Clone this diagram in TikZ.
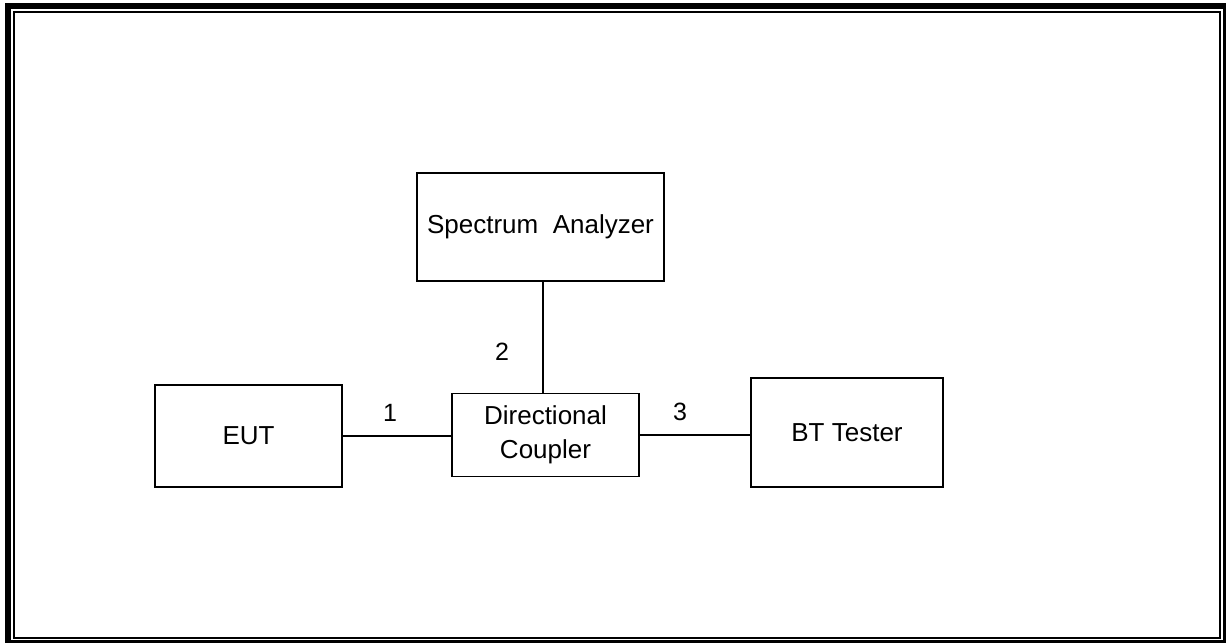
\documentclass[tikz,border=0pt]{standalone}
\usepackage{fontspec}
\setmainfont{Liberation Sans}
\begin{document}
\begin{tikzpicture}[x=1pt,y=-1pt,
  box/.style={draw=black,line width=1.9pt,minimum width=#1,inner sep=0pt,align=center,
    font=\fontsize{26}{34}\selectfont},
  conn/.style={line width=1.8pt},
  lbl/.style={font=\fontsize{25}{30}\selectfont,inner sep=0pt}]
\useasboundingbox (0,0) rectangle (1226,643);
\fill[white] (0,0) rectangle (1226,643);
% border
\draw[line width=5.5pt] (7.8,3) -- (7.8,643);
\draw[line width=5.5pt] (5,5.8) -- (1226,5.8);
\draw[line width=3pt] (1224,3) -- (1224,643);
\draw[line width=3pt] (5,641.2) -- (1226,641.2);
\draw[line width=2pt] (14,12) rectangle (1219.5,638.3);
% nodes
\node[box=247pt,minimum height=108pt] (sa) at (540.5,227) {Spectrum\ \ Analyzer};
\node[box=187pt,minimum height=102pt] (eut) at (248.5,436) {EUT};
\node[box=187pt,minimum height=83pt] (dc) at (545.5,435) {Directional\\Coupler};
\node[box=192pt,minimum height=109pt] (bt) at (847,432.5) {BT Tester};
% connectors
\draw[conn] (eut.east) -- (eut.east -| dc.west);
\draw[conn] (dc.east) -- (dc.east -| bt.west);
\draw[conn] ([xshift=2.5pt]sa.south) -- ([xshift=2.5pt]sa.south |- dc.north);
% labels
\node[lbl] (l1) at (390,413) {1};
\node[lbl] (l2) at (502,352) {2};
\node[lbl] (l3) at (680,412) {3};
\end{tikzpicture}
\end{document}
